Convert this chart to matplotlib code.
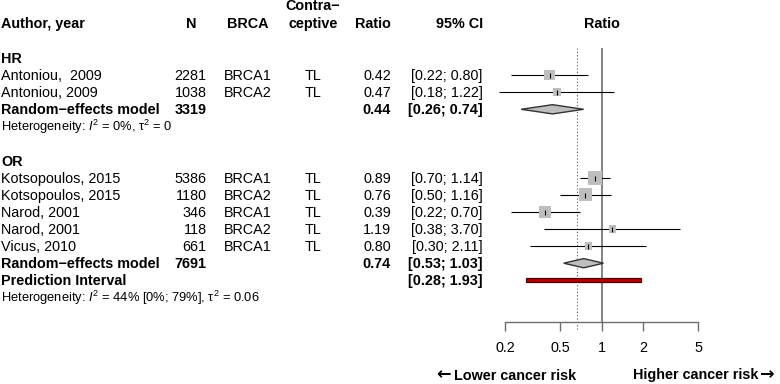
import matplotlib
matplotlib.use("Agg")
import matplotlib.pyplot as plt
import numpy as np
from matplotlib.patches import Polygon, Rectangle

plt.rcParams["font.family"] = ["Liberation Sans", "DejaVu Sans"]
plt.rcParams["mathtext.fontset"] = "custom"
plt.rcParams["mathtext.rm"] = "Liberation Sans"
plt.rcParams["mathtext.it"] = "Liberation Sans:italic"
plt.rcParams["mathtext.bf"] = "Liberation Sans:bold"

# ---------------- data ----------------
authors = ["Antoniou,  2009", "Antoniou, 2009", "Kotsopoulos, 2015", "Kotsopoulos, 2015",
           "Narod, 2001", "Narod, 2001", "Vicus, 2010"]
n_total = [2281, 1038, 5386, 1180, 346, 118, 661]
brca = ["BRCA1", "BRCA2", "BRCA1", "BRCA2", "BRCA1", "BRCA2", "BRCA1"]
contra = ["TL", "TL", "TL", "TL", "TL", "TL", "TL"]
ratio = [0.42, 0.47, 0.89, 0.76, 0.39, 1.19, 0.80]
ci_low = [0.22, 0.18, 0.70, 0.50, 0.22, 0.38, 0.30]
ci_high = [0.80, 1.22, 1.14, 1.16, 0.70, 3.70, 2.11]
weights = [14.4, 8.1, 24.7, 21.3, 18.2, 6.2, 7.1]
study_group = ["HR", "HR", "OR", "OR", "OR", "OR", "OR"]

groups = ["HR", "OR"]
group_n = [3319, 7691]
group_ratio = [0.44, 0.74]
group_low = [0.26, 0.53]
group_high = [0.74, 1.03]
group_pi = [None, (0.28, 1.93)]
group_het = [r"Heterogeneity: $I^2$ = 0%, $\mathrm{\tau}^2$ = 0",
             r"Heterogeneity: $I^2$ = 44% [0%; 79%], $\mathrm{\tau}^2$ = 0.06"]
overall_ratio = 0.66
x_ticks = [0.2, 0.5, 1, 2, 5]
x_tick_labels = ["0.2", "0.5", "1", "2", "5"]
label_left = "Lower cancer risk"
label_right = "Higher cancer risk"

# ---------------- layout ----------------
W, H = 780, 384
fig = plt.figure(figsize=(W / 100, H / 100), dpi=100)
Y0, DY = 58.0, 17.1
ytop = -Y0 / DY
ybot = (H - Y0) / DY

tax = fig.add_axes([0, 0, 1, 1])
tax.set_xlim(0, W)
tax.set_ylim(ybot, ytop)
tax.axis("off")

C, D = 601.7, 137.8  # pixel of ratio 1, pixels per decade
L, R = 470, 730
fax = fig.add_axes([L / W, 0, (R - L) / W, 1])
fax.set_xscale("log")
fax.set_xlim(10 ** ((L - C) / D), 10 ** ((R - C) / D))
fax.set_ylim(ybot, ytop)
fax.patch.set_alpha(0)

FS = 10.4
FSH = 9.3
BO = 0.29  # baseline offset in rows

x_author, x_n, x_brca, x_con, x_ratio, x_ci = 1, 206.7, 247.5, 313, 391, 482.7

def txt(x, r, s, ha="left", bold=False, fs=FS):
    tax.text(x, r + BO, s, ha=ha, va="baseline", fontsize=fs,
             fontweight="bold" if bold else "normal")

# headers
hr_row = -2.07
txt(x_author, hr_row, "Author, year", bold=True)
txt(191, hr_row, "N", ha="center", bold=True)
txt(x_brca, hr_row, "BRCA", ha="center", bold=True)
txt(x_con, hr_row - 1.02, "Contra\u2212", ha="center", bold=True)
txt(x_con, hr_row, "ceptive", ha="center", bold=True)
txt(x_ratio, hr_row, "Ratio", ha="right", bold=True)
txt(x_ci, hr_row, "95% CI", ha="right", bold=True)
txt(C, hr_row, "Ratio", ha="center", bold=True)

wmax = max(weights)
row = 0
for g, gname in enumerate(groups):
    txt(x_author, row, gname, bold=True)
    row += 1
    for i in range(len(authors)):
        if study_group[i] != gname:
            continue
        txt(x_author, row, authors[i])
        txt(x_n, row, str(n_total[i]), ha="right")
        txt(x_brca, row, brca[i], ha="center")
        txt(x_con, row, contra[i], ha="center")
        txt(x_ratio, row, f"{ratio[i]:.2f}", ha="right")
        txt(x_ci, row, f"[{ci_low[i]:.2f}; {ci_high[i]:.2f}]", ha="right")
        fax.hlines(row, ci_low[i], ci_high[i], color="black", lw=0.8, zorder=2)
        side = 14.0 * np.sqrt(weights[i] / wmax) * 0.72
        fax.scatter([ratio[i]], [row], marker="s", s=side ** 2, color="#bebebe",
                    edgecolors="none", zorder=3)
        fax.scatter([ratio[i]], [row], marker="|", s=3.6 ** 2, color="black",
                    linewidths=0.8, zorder=4)
        row += 1
    # pooled
    txt(x_author, row, "Random\u2212effects model", bold=True)
    txt(x_n, row, str(group_n[g]), ha="right", bold=True)
    txt(x_ratio, row, f"{group_ratio[g]:.2f}", ha="right", bold=True)
    txt(x_ci, row, f"[{group_low[g]:.2f}; {group_high[g]:.2f}]", ha="right", bold=True)
    hh = 0.27
    dia = Polygon([[group_low[g], row], [group_ratio[g], row - hh],
                   [group_high[g], row], [group_ratio[g], row + hh]],
                  closed=True, facecolor="#bebebe", edgecolor="#333333", lw=1.0, zorder=3)
    fax.add_patch(dia)
    row += 1
    if group_pi[g] is not None:
        lo, hi = group_pi[g]
        txt(x_author, row, "Prediction Interval", bold=True)
        txt(x_ci, row, f"[{lo:.2f}; {hi:.2f}]", ha="right", bold=True)
        fax.add_patch(Rectangle((lo, row - 0.12), hi - lo, 0.24, facecolor="#b20000",
                                edgecolor="#550000", lw=0.9, zorder=3))
        row += 1
    txt(x_author, row - 0.02, group_het[g], fs=FSH)
    row += 2

# reference lines
axis_row = (321.7 - Y0) / DY
top_row = (48 - Y0) / DY
fax.vlines(1, top_row, axis_row, color="#6e6e6e", lw=1.2, zorder=1)
fax.vlines(overall_ratio, top_row, (331 - Y0) / DY, color="#555555", lw=0.8,
           linestyles=(0, (1, 2)), zorder=1)

# x axis
for s in ["top", "left", "right"]:
    fax.spines[s].set_visible(False)
fax.spines["bottom"].set_position(("data", axis_row))
fax.spines["bottom"].set_bounds(x_ticks[0], x_ticks[-1])
fax.spines["bottom"].set_color("#6e6e6e")
fax.spines["bottom"].set_linewidth(1.0)
fax.set_xticks(x_ticks)
fax.set_xticklabels(x_tick_labels)
fax.minorticks_off()
fax.tick_params(axis="x", which="major", direction="out", length=6.7, width=1.0,
                color="#6e6e6e", labelsize=FS, pad=7.0)
fax.set_yticks([])

# bottom labels with arrows
lab_row = (379.5 - Y0) / DY
arrow_row = (379.0 - Y0) / DY
tax.text(436, arrow_row, "\u2190", ha="left", va="baseline", fontsize=12.5,
         fontweight="bold", family="DejaVu Sans")
tax.text(454, lab_row, label_left, ha="left", va="baseline", fontsize=FS,
         fontweight="bold")
tax.text(633, lab_row, label_right, ha="left", va="baseline", fontsize=FS,
         fontweight="bold")
tax.text(760, arrow_row, "\u2192", ha="left", va="baseline", fontsize=12.5,
         fontweight="bold", family="DejaVu Sans")

fig.savefig("out.png", dpi=100)
